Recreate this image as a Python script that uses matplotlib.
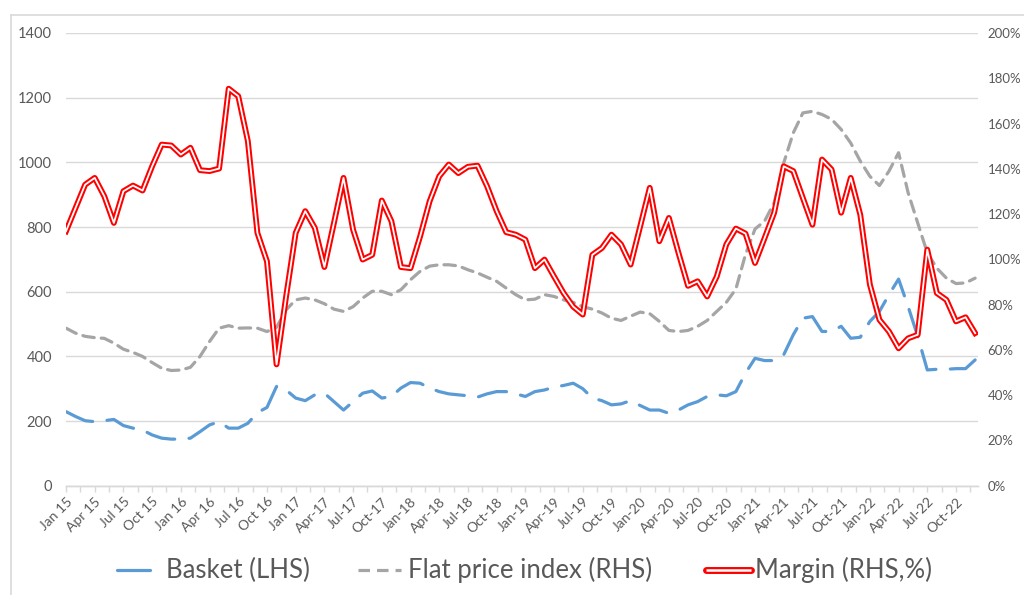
import matplotlib
matplotlib.use("Agg")
import matplotlib.pyplot as plt
from matplotlib.lines import Line2D
from matplotlib.ticker import FixedLocator, FuncFormatter

plt.rcParams['font.family'] = ['Lato', 'DejaVu Sans']

# Monthly series Jan 2015 .. Dec 2022
basket = [229, 214, 201, 198, 201, 205, 186, 178, 172, 157,
          147, 144, 144, 147, 167, 188, 198, 178, 178, 193,
          226, 242, 307, 296, 271, 263, 281, 286, 260, 234,
          260, 286, 293, 271, 276, 302, 319, 317, 302, 291,
          284, 281, 278, 274, 284, 291, 291, 284, 276, 291,
          296, 305, 310, 317, 300, 271, 263, 250, 253, 263,
          248, 234, 234, 224, 234, 250, 260, 276, 281, 278,
          291, 348, 394, 387, 387, 405, 467, 518, 523, 477,
          477, 493, 456, 459, 508, 539, 591, 639, 554, 462,
          358, 360, 360, 362, 362, 389]

flat_price_index = [69.6, 67.4, 66.0, 65.4, 65.1, 63.0, 60.3, 58.9, 57.1, 54.4,
                    51.9, 50.9, 51.1, 52.3, 57.1, 63.7, 69.6, 70.7, 69.6, 69.7,
                    69.6, 68.1, 70.0, 77.7, 82.1, 82.9, 82.1, 80.4, 78.0, 77.0,
                    79.1, 82.9, 85.9, 85.9, 84.4, 86.6, 91.0, 94.7, 97.0, 97.6,
                    97.6, 97.1, 95.4, 94.0, 92.1, 90.3, 87.3, 84.4, 82.1, 82.4,
                    84.4, 83.6, 82.1, 81.0, 79.1, 78.0, 76.3, 74.0, 73.0, 74.9,
                    76.7, 76.0, 72.6, 68.6, 68.1, 68.6, 70.4, 73.0, 77.0, 81.0,
                    86.9, 102.1, 113.4, 116.9, 125.0, 142.6, 155.9, 164.7, 165.4, 164.0,
                    161.9, 157.4, 151.4, 143.4, 136.7, 132.6, 139.0, 147.1, 129.4, 116.1,
                    102.9, 96.1, 91.7, 89.3, 89.6, 91.7]

margin = [112.4, 122.7, 133.0, 136.0, 127.9, 116.1, 130.1, 132.6, 130.4, 141.1,
          150.7, 150.3, 146.3, 149.3, 139.4, 139.0, 140.1, 175.4, 172.1, 152.3,
          111.7, 99.1, 53.6, 83.6, 111.7, 121.3, 113.9, 96.6, 116.1, 136.0,
          113.1, 99.9, 102.0, 126.0, 116.9, 96.6, 96.1, 110.1, 125.7, 136.7,
          141.9, 138.1, 140.9, 141.4, 132.3, 121.3, 112.0, 110.9, 108.7, 96.1,
          99.9, 92.4, 85.1, 79.1, 75.6, 102.0, 105.0, 110.9, 106.6, 97.7,
          114.6, 131.6, 108.0, 118.3, 102.9, 88.3, 90.3, 83.6, 92.4, 106.6,
          113.6, 111.4, 98.4, 109.4, 120.6, 141.1, 139.0, 127.1, 115.3, 144.1,
          139.7, 120.6, 136.0, 119.7, 88.9, 73.3, 68.1, 60.7, 65.1, 66.7,
          104.3, 85.1, 82.1, 72.6, 74.4, 67.4]

tick_labels = ["Jan 15", "Apr 15", "Jul 15", "Oct 15", "Jan 16", "Apr 16", "Jul 16", "Oct 16",
               "Jan 17", "Apr-17", "Jul-17", "Oct-17", "Jan-18", "Apr-18", "Jul-18", "Oct-18",
               "Jan-19", "Apr-19", "Jul-19", "Oct-19", "Jan-20", "Apr-20", "Jul-20", "Oct-20",
               "Jan-21", "Apr-21", "Jul-21", "Oct-21", "Jan-22", "Apr-22", "Jul-22", "Oct-22"]

legend_labels = ["Basket (LHS)", "Flat price index (RHS)", "Margin (RHS,%)"]

BLUE = "#5B9BD5"
GRAY = "#A5A5A5"
RED = "#FF0000"
TXT = "#595959"
GRID = "#D9D9D9"

fig = plt.figure(figsize=(10.24, 5.95), dpi=100)
ax = fig.add_axes([66/1024, 1-485.7/595, (978-66)/1024, (485.7-33)/595])
ax2 = ax.twinx()

x = list(range(len(basket)))

ax.plot(x, basket, color=BLUE, lw=2.3, dashes=(9, 4.5), solid_capstyle='round',
        dash_capstyle='round', zorder=3)
ax2.plot(x, flat_price_index, color=GRAY, lw=2.3, dashes=(3.6, 2.2),
         dash_capstyle='round', zorder=3)
ax2.plot(x, margin, color=RED, lw=4.2, solid_joinstyle='round', zorder=4)
ax2.plot(x, margin, color="white", lw=1.3, solid_joinstyle='round', zorder=5)

ax.set_xlim(0, 95.3)
ax.set_ylim(0, 1400)
ax2.set_ylim(0, 200)
ax.set_yticks(range(0, 1401, 200))
ax2.set_yticks(range(0, 201, 20))
ax2.yaxis.set_major_formatter(FuncFormatter(lambda v, p: f"{int(v)}%"))

ax.grid(axis='y', color=GRID, lw=1.0)
ax.set_axisbelow(True)
for a in (ax, ax2):
    for s in ('left', 'right', 'top'):
        a.spines[s].set_visible(False)
    a.spines['bottom'].set_color(GRID)
    a.spines['bottom'].set_linewidth(1.0)

major = [3 * i for i in range(len(tick_labels))]
ax.xaxis.set_major_locator(FixedLocator(major))
ax.xaxis.set_minor_locator(FixedLocator([m + 1.5 for m in major]))
ax.set_xticklabels(tick_labels, rotation=45, ha='right', rotation_mode='anchor',
                   fontsize=10, color=TXT)
ax.tick_params(axis='x', which='both', direction='out', length=4, width=1,
               color=GRID, pad=3)
ax.tick_params(axis='y', length=0, pad=10, labelsize=10.5, labelcolor=TXT)
ax2.tick_params(axis='y', length=0, pad=7, labelsize=9.5, labelcolor=TXT)

# chart border
fig.add_artist(Line2D([10.5/1024, 10.5/1024], [1-15/595, -0.05], color=GRID, lw=1.2,
                      transform=fig.transFigure))
fig.add_artist(Line2D([10.5/1024, 1.05], [1-15/595, 1-15/595], color=GRID, lw=1.2,
                      transform=fig.transFigure))

# legend (manual layout)
ly = 1 - 570/595
LFS = 18.5
fig.add_artist(Line2D([117/1024, 150/1024], [ly, ly], color=BLUE, lw=2.3,
                      solid_capstyle='round', transform=fig.transFigure))
fig.text(166/1024, ly, legend_labels[0], fontsize=LFS, color=TXT, va='center', ha='left')
fig.add_artist(Line2D([358/1024, 401/1024], [ly, ly], color=GRAY, lw=2.3,
                      dashes=(3.6, 2.2), transform=fig.transFigure))
fig.text(408/1024, ly, legend_labels[1], fontsize=LFS, color=TXT, va='center', ha='left')
fig.add_artist(Line2D([706/1024, 751/1024], [ly, ly], color=RED, lw=5.0,
                      solid_capstyle='round', transform=fig.transFigure))
fig.add_artist(Line2D([706/1024, 751/1024], [ly, ly], color="white", lw=1.8,
                      solid_capstyle='butt', transform=fig.transFigure))
fig.text(755/1024, ly, legend_labels[2], fontsize=LFS, color=TXT, va='center', ha='left')

fig.savefig("out.png", dpi=100)
